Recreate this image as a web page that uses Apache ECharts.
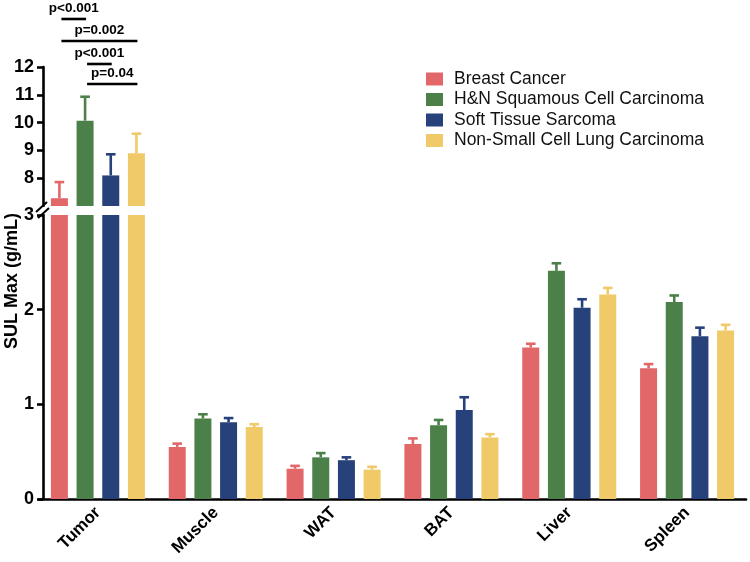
<!DOCTYPE html>
<html>
<head>
<meta charset="utf-8">
<script src="https://cdn.jsdelivr.net/npm/echarts@6/dist/echarts.min.js"></script>
<style>html,body{margin:0;padding:0;background:#fff}#c{width:750px;height:562px}</style>
</head>
<body>
<div id="c"></div>
<script>
const categories = ['Tumor', 'Muscle', 'WAT', 'BAT', 'Liver', 'Spleen'];
const seriesNames = ['Breast Cancer', 'H&N Squamous Cell Carcinoma', 'Soft Tissue Sarcoma', 'Non-Small Cell Lung Carcinoma'];
const breast    = [7.28, 0.55, 0.32, 0.58, 1.60, 1.38];
const breastErr = [0.58, 0.035, 0.03, 0.06, 0.04, 0.045];
const hn        = [10.07, 0.85, 0.44, 0.78, 2.41, 2.08];
const hnErr     = [0.86, 0.045, 0.045, 0.055, 0.08, 0.07];
const sts       = [8.10, 0.81, 0.41, 0.94, 2.02, 1.72];
const stsErr    = [0.76, 0.045, 0.03, 0.135, 0.09, 0.09];
const nsclc     = [8.90, 0.76, 0.31, 0.65, 2.16, 1.78];
const nsclcErr  = [0.70, 0.03, 0.03, 0.035, 0.07, 0.06];
const upperTicks = [8, 9, 10, 11, 12];
const lowerTicks = [0, 1, 2, 3];
const pLabels = ['p<0.001', 'p=0.002', 'p<0.001', 'p=0.04'];
const pPairs = [[0, 1], [0, 3], [1, 2], [1, 3]];

const colors = ['#E26769', '#4B8049', '#27417B', '#F0CA69'];
const values = [breast, hn, sts, nsclc];
const errs = [breastErr, hnErr, stsErr, nsclcErr];
const BREAK = 3;
const BAR_W = 17, GAP = 0.51, STEP = BAR_W * (1 + GAP);
const FONT = 'Liberation Sans, Arial, Helvetica, sans-serif';

const chart = echarts.init(document.getElementById('c'), null, {renderer: 'canvas'});

function errRender(si) {
  return function (params, api) {
    const ci = api.value(0), v = api.value(1), e = api.value(2);
    const b = api.coord([ci, v]);
    const t = api.coord([ci, v + e]);
    const x = b[0] + (si - 1.5) * STEP;
    const st = {stroke: colors[si], lineWidth: 2.6};
    return {type: 'group', children: [
      {type: 'line', shape: {x1: x, y1: b[1], x2: x, y2: t[1]}, style: st},
      {type: 'line', shape: {x1: x - 4.8, y1: t[1], x2: x + 4.8, y2: t[1]}, style: st}
    ]};
  };
}

const series = [];
for (let g = 0; g < 2; g++) {
  values.forEach((arr, si) => {
    series.push({
      type: 'bar', name: seriesNames[si], xAxisIndex: g, yAxisIndex: g,
      barWidth: BAR_W, barGap: (GAP * 100) + '%', clip: true,
      itemStyle: {color: colors[si]},
      data: arr.map(v => g === 0 ? (v > BREAK ? v : '-') : v),
      animation: false
    });
  });
}
for (let g = 0; g < 2; g++) {
  values.forEach((arr, si) => {
    const d = [];
    arr.forEach((v, ci) => {
      if ((g === 0 && v > BREAK) || (g === 1 && v <= BREAK)) d.push([ci, v, errs[si][ci]]);
    });
    series.push({
      type: 'custom', xAxisIndex: g, yAxisIndex: g, clip: false,
      renderItem: errRender(si), encode: {x: 0, y: 1}, data: d,
      z: 1, silent: true, animation: false
    });
  });
}

const axisLine = {lineStyle: {color: '#000', width: 2.6}};
const yLabel = {color: '#000', fontWeight: 'bold', fontSize: 18, fontFamily: FONT, margin: 9};

chart.setOption({
  animation: false,
  backgroundColor: '#fff',
  grid: [
    {left: 39, right: 4, top: 67, height: 139},
    {left: 39, right: 4, top: 215, height: 284}
  ],
  legend: {
    orient: 'vertical', left: 421, top: 65, itemWidth: 17, itemHeight: 13, itemGap: 2.5,
    icon: 'rect', data: seriesNames,
    textStyle: {fontSize: 17.5, fontFamily: FONT, color: '#111', padding: [0, 0, 0, 6]}
  },
  xAxis: [
    {type: 'category', gridIndex: 0, data: categories, show: false},
    {type: 'category', gridIndex: 1, data: categories,
     axisLine: axisLine,
     axisTick: {alignWithLabel: true, length: 6, lineStyle: {width: 2.6, color: '#000'}},
     axisLabel: {rotate: 45, color: '#000', fontWeight: 'bold', fontSize: 17, fontFamily: FONT, margin: 11, interval: 0}}
  ],
  yAxis: [
    {type: 'value', gridIndex: 0, min: 7, max: 12, offset: -4,
     axisLine: {show: true, lineStyle: {color: '#000', width: 2.6}},
     axisTick: {show: true, length: 6, lineStyle: {width: 2.6, color: '#000'}, customValues: upperTicks},
     axisLabel: Object.assign({customValues: upperTicks}, yLabel),
     splitLine: {show: false}},
    {type: 'value', gridIndex: 1, min: 0, max: 3, offset: -4,
     axisLine: {show: true, lineStyle: {color: '#000', width: 2.6}},
     axisTick: {show: true, length: 6, lineStyle: {width: 2.6, color: '#000'}, customValues: lowerTicks},
     axisLabel: Object.assign({customValues: lowerTicks}, yLabel),
     splitLine: {show: false}}
  ],
  series: series
});

// annotations and decorations
const cx = chart.convertToPixel({xAxisIndex: 0}, categories[0]);
const barX = i => cx + (i - 1.5) * STEP;
const lineYs = [19, 41, 64, 84];
const graphics = [];
pPairs.forEach((p, k) => {
  const x1 = barX(p[0]) + 2, x2 = barX(p[1]) + 1;
  graphics.push({type: 'line', shape: {x1: x1, y1: lineYs[k], x2: x2, y2: lineYs[k]}, style: {stroke: '#000', lineWidth: 2.6}});
  graphics.push({type: 'text', x: (x1 + x2) / 2, y: lineYs[k] - 4,
    style: {text: pLabels[k], fill: '#000', font: 'bold 13.5px ' + FONT, textAlign: 'center', textVerticalAlign: 'bottom'}});
});
// axis break marks
graphics.push({type: 'rect', shape: {x: 36, y: 207, width: 12, height: 7}, style: {fill: '#fff'}, z: 100});
graphics.push({type: 'line', shape: {x1: 36, y1: 212, x2: 47, y2: 202}, style: {stroke: '#000', lineWidth: 2}, z: 101});
graphics.push({type: 'line', shape: {x1: 38, y1: 218, x2: 49, y2: 208}, style: {stroke: '#000', lineWidth: 2}, z: 101});
// y-axis title
graphics.push({type: 'text', x: 12, y: 281, rotation: Math.PI / 2,
  style: {text: 'SUL Max (g/mL)', fill: '#000', font: 'bold 18px ' + FONT, textAlign: 'center', textVerticalAlign: 'middle'}});
chart.setOption({graphic: graphics});
</script>
</body>
</html>
